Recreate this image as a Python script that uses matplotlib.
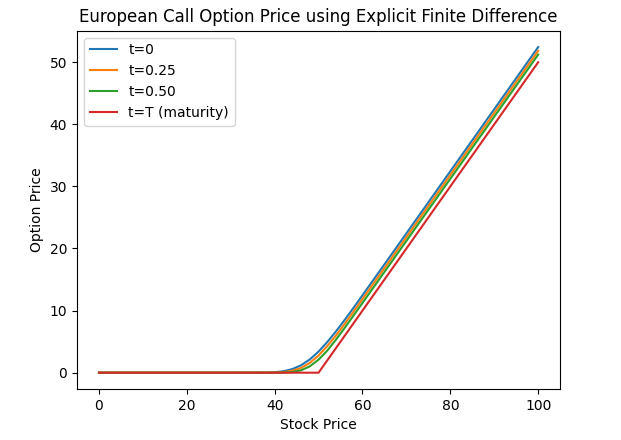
import matplotlib

matplotlib.use("Agg")
import matplotlib.pyplot as plt

# stock price grid
stock = [0, 30, 36, 38, 40, 42, 44, 46, 48, 50, 52, 54, 56, 58, 60, 65, 70, 80, 90, 100]

price_t0 = [0, 0, 0.005, 0.02, 0.07, 0.23, 0.57, 1.19, 2.13, 3.40, 4.95, 6.69,
            8.55, 10.49, 12.47, 17.44, 22.44, 32.44, 42.44, 52.44]
price_t025 = [0, 0, 0, 0.005, 0.02, 0.09, 0.31, 0.76, 1.57, 2.77, 4.30, 6.03,
              7.91, 9.87, 11.87, 16.84, 21.84, 31.84, 41.84, 51.84]
price_t050 = [0, 0, 0, 0, 0.003, 0.02, 0.11, 0.38, 1.02, 2.10, 3.57, 5.36,
              7.27, 9.24, 11.23, 16.23, 21.23, 31.23, 41.23, 51.23]

# payoff at maturity
stock_T = [0, 50, 100]
price_T = [0, 0, 50]

fig, ax = plt.subplots(figsize=(6.21, 4.40), dpi=100)
fig.subplots_adjust(left=0.124, right=0.902, bottom=0.116, top=0.93)

ax.plot(stock, price_t0, label="t=0")
ax.plot(stock, price_t025, label="t=0.25")
ax.plot(stock, price_t050, label="t=0.50")
ax.plot(stock_T, price_T, label="t=T (maturity)")

ax.set_title("European Call Option Price using Explicit Finite Difference")
ax.set_xlabel("Stock Price")
ax.set_ylabel("Option Price")
ax.legend(loc="upper left")

fig.savefig("out.png", dpi=100)
